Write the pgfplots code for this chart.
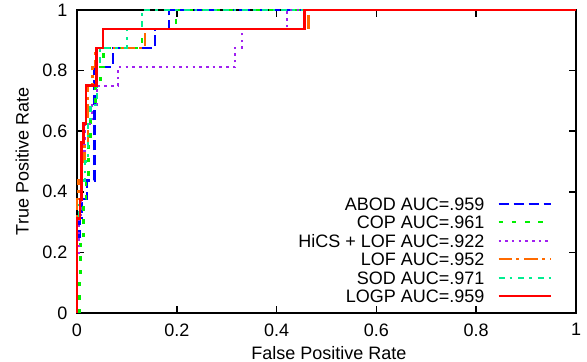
\documentclass[border=0pt]{standalone}
\usepackage{pgfplots}
\pgfplotsset{compat=1.18}
\usepackage{fontspec}
\setmainfont{Liberation Sans}
\definecolor{cABOD}{HTML}{0000FF}
\definecolor{cCOP}{HTML}{00F000}
\definecolor{cHICS}{HTML}{A020F0}
\definecolor{cLOF}{HTML}{FF6A00}
\definecolor{cSOD}{HTML}{00EE90}
\definecolor{cLOGP}{HTML}{FF0000}
\begin{document}
\begin{tikzpicture}
\begin{axis}[
  at={(0,0)}, anchor=south west,
  scale only axis, width=499bp, height=303bp,
  xmin=0, xmax=1, ymin=0, ymax=1,
  clip=false,
  font=\fontsize{18bp}{21bp}\selectfont,
  /pgf/number format/assume math mode=true,
  xtick={0,0.2,0.4,0.6,0.8,1}, ytick={0,0.2,0.4,0.6,0.8,1},
  tick align=inside, major tick length=7bp,
  axis line style={line width=1.5bp},
  every tick/.style={black, line width=1.5bp},
  xticklabel style={yshift=-7bp},
  yticklabel style={xshift=-6bp},
  xlabel={False Positive Rate},
  ylabel={True Positive Rate},
  xlabel style={at={(axis description cs:0.505,0)}, anchor=base, yshift=-46bp},
  ylabel style={at={(axis description cs:-0.11,0.5)}, anchor=center},
  legend plot pos=right,
  legend cell align=right,
  legend image code/.code={\draw[#1] (0bp,0bp) -- (52bp,0bp);},
  legend style={draw=none, fill=none, at={(0.952,0.383)}, anchor=north east,
    inner sep=0pt, row sep=5.6bp, column sep=13bp,
    nodes={inner sep=0pt, text height=12.9bp, text depth=0pt}},
]
\addplot[cABOD, line width=2.2bp, dash pattern=on 10.5bp off 4.5bp] coordinates {
(0,0) (0,0.25) (0.005,0.25) (0.005,0.3125) (0.01,0.3125) (0.01,0.375) (0.02,0.375) (0.02,0.4375) (0.035,0.4375) (0.035,0.8125) (0.072,0.8125) (0.072,0.875) (0.156,0.875) (0.156,0.9375) (0.185,0.9375) (0.185,1) (1,1)};
\addlegendentry{ABOD AUC=.959}
\addplot[cCOP, line width=2.2bp, dash pattern=on 4.5bp off 8.8bp] coordinates {
(0.005,0) (0.005,0.125) (0.007,0.125) (0.007,0.25) (0.013,0.25) (0.013,0.375) (0.018,0.375) (0.018,0.4375) (0.023,0.4375) (0.023,0.5625) (0.027,0.5625) (0.027,0.6875) (0.037,0.6875) (0.037,0.75) (0.047,0.75) (0.047,0.8125) (0.053,0.8125) (0.053,0.875) (0.13,0.875) (0.13,0.9375) (0.198,0.9375) (0.198,1) (1,1)};
\addlegendentry{COP AUC=.961}
\addplot[cHICS, line width=2.2bp, dash pattern=on 2.5bp off 4.2bp] coordinates {
(0,0) (0,0.1875) (0.003,0.1875) (0.003,0.3125) (0.008,0.3125) (0.008,0.5) (0.015,0.5) (0.015,0.625) (0.03,0.625) (0.03,0.6875) (0.04,0.6875) (0.04,0.75) (0.082,0.75) (0.082,0.8125) (0.317,0.8125) (0.317,0.875) (0.33,0.875) (0.33,0.9375) (0.421,0.9375) (0.421,1) (1,1)};
\addlegendentry{HiCS + LOF AUC=.922}
\addplot[cLOF, line width=2.2bp, dash pattern=on 13.3bp off 4.5bp on 3bp off 5bp] coordinates {
(0,0) (0,0.375) (0.003,0.375) (0.003,0.4375) (0.01,0.4375) (0.01,0.5) (0.015,0.5) (0.015,0.5625) (0.022,0.5625) (0.022,0.75) (0.031,0.75) (0.031,0.8125) (0.036,0.8125) (0.036,0.875) (0.137,0.875) (0.137,0.9375) (0.464,0.9375) (0.464,1) (1,1)};
\addlegendentry{LOF AUC=.952}
\addplot[cSOD, line width=2.2bp, dash pattern=on 6bp off 5bp on 2.5bp off 6bp] coordinates {
(0,0) (0,0.3125) (0.004,0.3125) (0.004,0.375) (0.008,0.375) (0.008,0.4375) (0.016,0.4375) (0.016,0.5) (0.022,0.5) (0.022,0.625) (0.027,0.625) (0.027,0.6875) (0.04,0.6875) (0.04,0.8125) (0.046,0.8125) (0.046,0.875) (0.1,0.875) (0.1,0.9375) (0.13,0.9375) (0.13,1) (1,1)};
\addlegendentry{SOD AUC=.971}
\addplot[cLOGP, line width=2.5bp] coordinates {
(0,0) (0,0.3125) (0.006,0.3125) (0.006,0.375) (0.009,0.375) (0.009,0.5625) (0.013,0.5625) (0.013,0.625) (0.018,0.625) (0.018,0.75) (0.039,0.75) (0.039,0.875) (0.052,0.875) (0.052,0.9375) (0.456,0.9375) (0.456,1) (1,1)};
\addlegendentry{LOGP AUC=.959}
\end{axis}
\pgfresetboundingbox
\path[use as bounding box] (-77bp,-49bp) rectangle (510bp,313bp);
\end{tikzpicture}
\end{document}
